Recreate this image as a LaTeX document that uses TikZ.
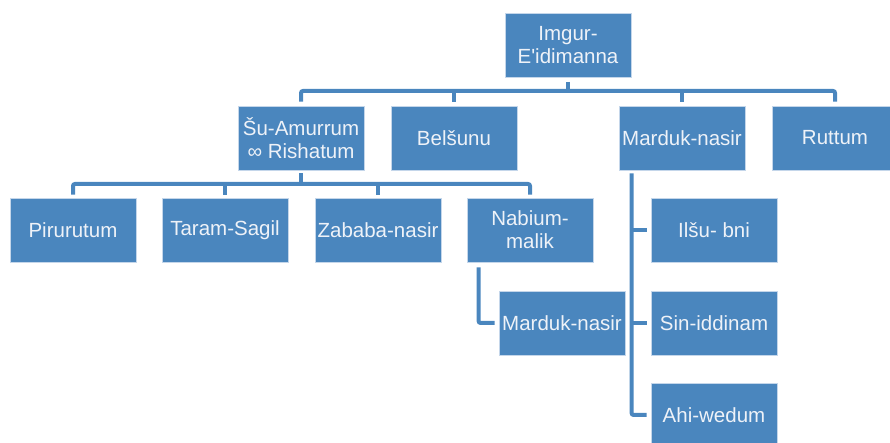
\documentclass[tikz,border=0pt]{standalone}
\usepackage{fontspec}
\setmainfont{Liberation Sans}
\definecolor{boxblue}{RGB}{74,134,190}
\definecolor{boxedge}{RGB}{196,214,234}
\definecolor{boxtext}{RGB}{238,242,248}
\begin{document}
\begin{tikzpicture}[x=1pt,y=1pt,
  box/.style={rectangle, fill=boxblue, draw=boxedge, line width=0.8pt,
    minimum width=126pt, minimum height=64pt, inner sep=0pt,
    text=boxtext, align=center, font=\fontsize{20.5}{23}\selectfont},
  conn/.style={draw=boxblue, line width=4pt, rounded corners=2pt}]
\useasboundingbox (0,0) rectangle (890,443);
\clip (0,0) rectangle (890,443);
% nodes
\node[box] (imgur) at (568,397.5) {Imgur-\\E\textquotesingle idimanna};
\node[box] (su)    at (301,305) {Šu-Amurrum\\∞ Rishatum};
\node[box] (bel)   at (454,305) {Belšunu};
\node[box] (mar1)  at (682,305) {Marduk-nasir};
\node[box] (rut)   at (835,305) {Ruttum};
\node[box] (pir)   at (73,213)  {Pirurutum};
\node[box] (tar)   at (225,213) {Taram-Sagil};
\node[box] (zab)   at (378,213) {Zababa-nasir};
\node[box] (nab)   at (530,213) {Nabium-\\malik};
\node[box] (mar2)  at (562,120) {Marduk-nasir};
\node[box] (ilsu)  at (714,213) {Ilšu- bni};
\node[box] (sin)   at (714,120) {Sin-iddinam};
\node[box] (ahi)   at (714,28)  {Ahi-wedum};
% first level bus
\coordinate (b1) at (0,352);
\draw[conn] ([yshift=-4pt]imgur.south) -- (imgur.south |- b1);
\draw[conn] ([yshift=4pt]su.north) |- (b1 -| rut) -- ([yshift=4pt]rut.north);
\draw[conn] ([yshift=4pt]bel.north) -- (bel.north |- b1);
\draw[conn] ([yshift=4pt]mar1.north) -- (mar1.north |- b1);
% second level bus
\coordinate (b2) at (0,259);
\draw[conn] ([yshift=-3pt]su.south) -- (su.south |- b2);
\draw[conn] ([yshift=3pt]pir.north) |- (b2 -| nab) -- ([yshift=3pt]nab.north);
\draw[conn] ([yshift=3pt]tar.north) -- (tar.north |- b2);
\draw[conn] ([yshift=3pt]zab.north) -- (zab.north |- b2);
% Nabium-malik -> Marduk-nasir
\draw[conn] ([xshift=12pt,yshift=-5pt]nab.south west) |- ([xshift=-4pt]mar2.west);
% Marduk-nasir -> children
\coordinate (mv) at ([xshift=13pt,yshift=-3pt]mar1.south west);
\draw[conn] (mv) |- ([xshift=-4pt]ahi.west);
\draw[conn] (mv |- ilsu.west) -- ([xshift=-4pt]ilsu.west);
\draw[conn] (mv |- sin.west) -- ([xshift=-4pt]sin.west);
\end{tikzpicture}
\end{document}
